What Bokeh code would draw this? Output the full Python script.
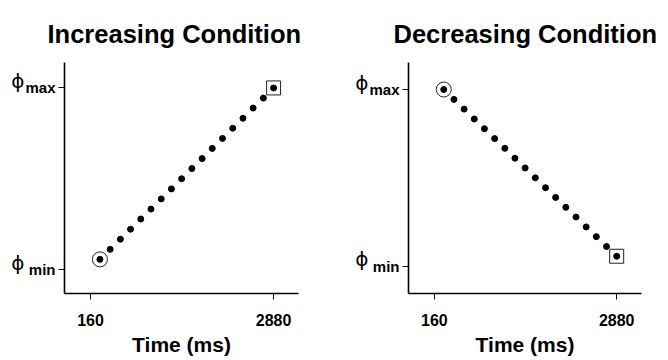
from bokeh.plotting import figure
from bokeh.layouts import row
from bokeh.models import FixedTicker, LinearAxis, CustomJSTickFormatter
from bokeh.embed import file_html
from bokeh.resources import INLINE

# ---- data ----
time_ms = [300, 452, 604, 755, 907, 1059, 1211, 1362, 1514, 1666,
           1818, 1969, 2121, 2273, 2425, 2576, 2728, 2880]
phi_increasing = [0.056, 0.111, 0.167, 0.222, 0.278, 0.333, 0.389, 0.444, 0.500,
                  0.556, 0.611, 0.667, 0.722, 0.778, 0.833, 0.889, 0.944, 1.000]
phi_decreasing = [1.000, 0.944, 0.889, 0.833, 0.778, 0.722, 0.667, 0.611, 0.556,
                  0.500, 0.444, 0.389, 0.333, 0.278, 0.222, 0.167, 0.111, 0.056]
x_ticks = [160, 2880]
y_ticks = [0, 1]                 # phi_min, phi_max
y_subscripts = ["min", "max"]
y_symbol = "ϕ"
titles = ["Increasing Condition", "Decreasing Condition"]
x_label = "Time (ms)"

FONT = "Liberation Sans"
X_START, X_END = -226, 3250
FIG_H = 360
BORDER_TOP, BORDER_BOTTOM = 62, 67
PHI_RAISE_PX = 7


def make_panel(title, phi, y_range, border_left, frame_w, title_offset):
    border_right = 334 - border_left - frame_w
    p = figure(width=334, height=FIG_H, x_range=(X_START, X_END), y_range=y_range,
               output_backend="svg", toolbar_location=None, title=title,
               min_border_left=border_left, min_border_right=border_right,
               min_border_top=BORDER_TOP, min_border_bottom=BORDER_BOTTOM)
    xa = p.below[0]
    ya = p.left[0]

    p.title.align = "left"
    p.title.offset = title_offset
    p.title.text_font = FONT
    p.title.text_font_size = "25.5px"
    p.title.text_font_style = "bold"
    p.title.text_color = "black"
    p.title.standoff = 29

    p.xgrid.visible = False
    p.ygrid.visible = False
    p.outline_line_color = None

    for ax in (xa, ya):
        ax.axis_line_width = 1.6
        ax.axis_line_color = "black"
        ax.major_tick_out = 6
        ax.major_tick_in = 0
        ax.minor_tick_out = 0
        ax.minor_tick_in = 0
        ax.major_tick_line_color = "black"
        ax.major_tick_line_width = 1

    xa.ticker = FixedTicker(ticks=x_ticks)
    xa.major_label_text_font = FONT
    xa.major_label_text_font_size = "16px"
    xa.major_label_text_font_style = "bold"
    xa.major_label_text_color = "black"
    xa.major_label_standoff = 14
    xa.axis_label = x_label
    xa.axis_label_text_font = FONT
    xa.axis_label_text_font_size = "21px"
    xa.axis_label_text_font_style = "bold"
    xa.axis_label_text_color = "black"
    xa.axis_label_standoff = 4

    # inner y axis: ticks + subscripts
    ya.ticker = FixedTicker(ticks=y_ticks)
    ya.major_label_overrides = dict(zip(y_ticks, y_subscripts))
    ya.major_label_text_font = FONT
    ya.major_label_text_font_size = "15px"
    ya.major_label_text_font_style = "bold"
    ya.major_label_text_color = "black"
    ya.major_label_standoff = 3

    # outer y axis: the phi symbols, raised a few pixels above the ticks
    frame_h = FIG_H - BORDER_TOP - BORDER_BOTTOM
    raise_units = PHI_RAISE_PX * (y_range[1] - y_range[0]) / frame_h
    sym_axis = LinearAxis(ticker=FixedTicker(ticks=[t + raise_units for t in y_ticks]),
                          formatter=CustomJSTickFormatter(code="return '%s'" % y_symbol))
    sym_axis.axis_line_color = None
    sym_axis.major_tick_line_color = None
    sym_axis.major_tick_out = 0
    sym_axis.major_tick_in = 0
    sym_axis.minor_tick_line_color = None
    sym_axis.major_label_standoff = -2
    sym_axis.major_label_text_font = "DejaVu Sans"
    sym_axis.major_label_text_font_size = "20px"
    sym_axis.major_label_text_color = "black"
    p.add_layout(sym_axis, "left")

    p.scatter(time_ms, phi, size=6, color="black")
    p.scatter(time_ms[:1], phi[:1], marker="circle", size=15,
              fill_color=None, line_color="#222222", line_width=1)
    p.scatter(time_ms[-1:], phi[-1:], marker="square", size=14,
              fill_color=None, line_color="#222222", line_width=1)
    return p


p1 = make_panel(titles[0], phi_increasing, (-0.132, 1.14), 64, 234, -17)
p2 = make_panel(titles[1], phi_decreasing, (-0.155, 1.153), 74, 233, -15)

layout = row(p1, p2)
open("out.html", "w").write(file_html(layout, INLINE))
